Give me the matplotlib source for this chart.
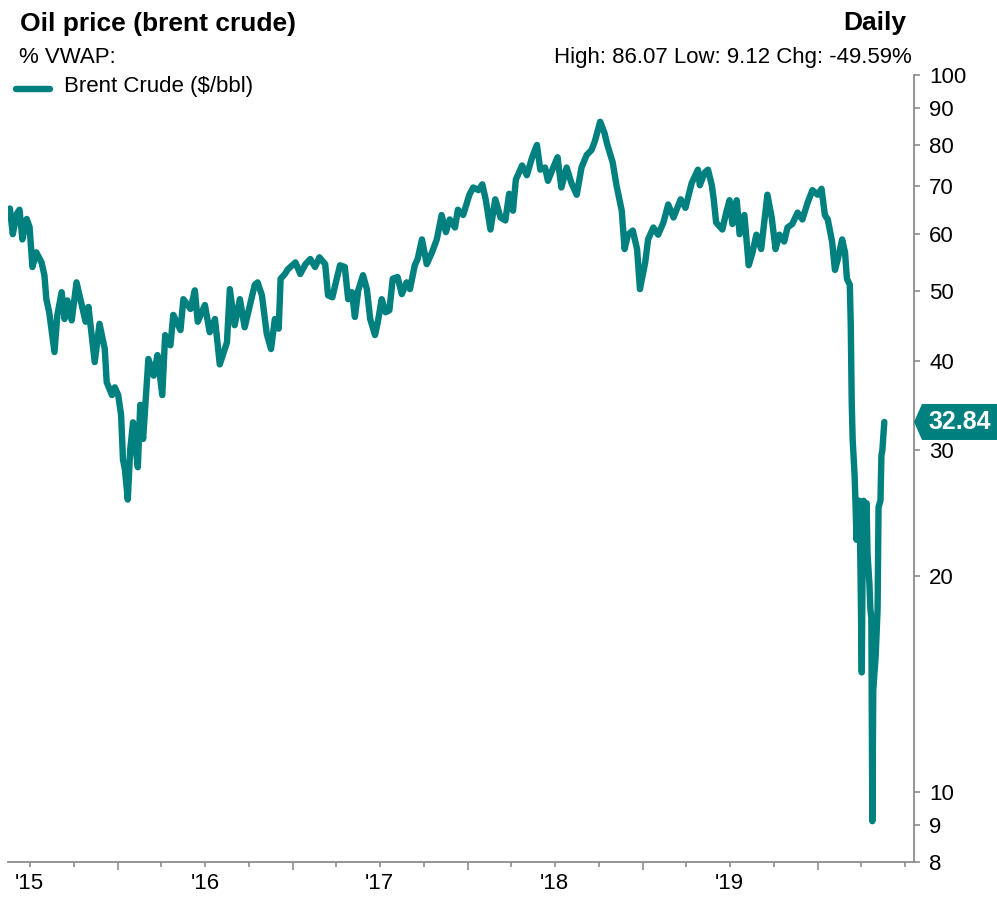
#!/usr/bin/env python3
"""Brent crude daily price chart (log scale) recreated with matplotlib."""

import matplotlib

matplotlib.use("Agg")
import matplotlib.dates as mdates
import matplotlib.pyplot as plt
import matplotlib.ticker as mticker
import pandas as pd
from matplotlib.lines import Line2D
from matplotlib.patches import Polygon
from matplotlib.transforms import IdentityTransform

plt.rcParams["font.family"] = ["Liberation Sans", "DejaVu Sans"]

TEAL = "#00807F"
GREY = "#8C8C8C"
W, H = 997, 897

dates_2015 = [
    "2015-05-21", "2015-05-27", "2015-06-04", "2015-06-10", "2015-06-16",
    "2015-06-25", "2015-07-01", "2015-07-07", "2015-07-15", "2015-07-26",
    "2015-08-01", "2015-08-05", "2015-08-11", "2015-08-22", "2015-08-28",
    "2015-09-06", "2015-09-12", "2015-09-18", "2015-09-27", "2015-10-07",
    "2015-10-18", "2015-10-26", "2015-11-01", "2015-11-14", "2015-11-24",
    "2015-12-05", "2015-12-09", "2015-12-20", "2015-12-26",
]
prices_2015 = [
    65.15, 60.0, 64.0, 64.9, 59.0, 63.0, 61.4, 54.0, 56.6, 54.8,
    52.6, 48.7, 46.7, 41.1, 46.3, 49.8, 45.7, 48.5, 45.5, 51.4,
    47.8, 45.3, 47.5, 39.8, 45.0, 41.5, 37.3, 35.8, 36.7,
]

dates_2016 = [
    "2016-01-02", "2016-01-08", "2016-01-12", "2016-01-16", "2016-01-22",
    "2016-01-27", "2016-02-02", "2016-02-06", "2016-02-12", "2016-02-17",
    "2016-02-23", "2016-03-05", "2016-03-16", "2016-03-24", "2016-04-03",
    "2016-04-09", "2016-04-20", "2016-04-26", "2016-05-11", "2016-05-17",
    "2016-06-01", "2016-06-10", "2016-06-16", "2016-07-01", "2016-07-11",
    "2016-07-22", "2016-08-01", "2016-08-16", "2016-08-22", "2016-09-01",
    "2016-09-12", "2016-09-22", "2016-10-03", "2016-10-13", "2016-10-19",
    "2016-10-28", "2016-11-07", "2016-11-16", "2016-11-24", "2016-12-02",
    "2016-12-06", "2016-12-15", "2016-12-21",
]
prices_2016 = [
    35.8, 33.6, 29.1, 28.2, 25.6, 30.0, 32.8, 30.8, 28.4, 34.7,
    31.1, 40.2, 38.1, 40.7, 35.8, 43.4, 42.0, 46.3, 44.1, 48.7,
    47.2, 50.1, 45.3, 47.8, 43.8, 45.7, 39.5, 42.4, 50.3, 44.8,
    48.7, 44.5, 47.8, 51.0, 51.4, 49.3, 43.6, 41.5, 45.7, 44.3,
    52.0, 52.8, 53.6,
]

dates_2017 = [
    "2017-01-06", "2017-01-16", "2017-01-27", "2017-02-06", "2017-02-16",
    "2017-02-25", "2017-03-09", "2017-03-15", "2017-03-24", "2017-04-03",
    "2017-04-09", "2017-04-19", "2017-04-26", "2017-05-04", "2017-05-10",
    "2017-05-17", "2017-05-27", "2017-06-04", "2017-06-11", "2017-06-21",
    "2017-06-27", "2017-07-05", "2017-07-13", "2017-07-21", "2017-07-28",
    "2017-08-07", "2017-08-16", "2017-08-26", "2017-09-02", "2017-09-12",
    "2017-09-18", "2017-09-27", "2017-10-07", "2017-10-18", "2017-10-28",
    "2017-11-07", "2017-11-16", "2017-11-24", "2017-12-05", "2017-12-11",
    "2017-12-22",
]
prices_2017 = [
    54.8, 52.8, 54.5, 55.4, 54.0, 55.7, 54.5, 49.3, 49.0, 52.3,
    54.3, 54.0, 48.7, 49.8, 46.0, 50.1, 52.6, 50.3, 45.7, 43.4,
    45.3, 48.7, 46.7, 47.0, 52.0, 52.3, 49.5, 51.4, 50.3, 54.3,
    55.4, 59.0, 54.5, 56.6, 59.0, 63.8, 60.4, 62.9, 61.3, 64.9,
    63.8,
]

dates_2018 = [
    "2018-01-04", "2018-01-12", "2018-01-23", "2018-01-31", "2018-02-07",
    "2018-02-17", "2018-02-27", "2018-03-10", "2018-03-20", "2018-03-28",
    "2018-04-05", "2018-04-11", "2018-04-24", "2018-05-04", "2018-05-15",
    "2018-05-25", "2018-06-01", "2018-06-11", "2018-06-17", "2018-06-28",
    "2018-07-07", "2018-07-15", "2018-07-26", "2018-08-05", "2018-08-16",
    "2018-08-26", "2018-09-06", "2018-09-16", "2018-09-23", "2018-10-04",
    "2018-10-13", "2018-10-19", "2018-10-30", "2018-11-07", "2018-11-18",
    "2018-11-24", "2018-12-01", "2018-12-11", "2018-12-20", "2018-12-26",
]
prices_2018 = [
    68.1, 69.7, 69.1, 70.4, 67.1, 60.9, 67.1, 63.3, 62.7, 68.3,
    64.7, 71.5, 74.8, 72.5, 76.8, 79.9, 73.8, 74.3, 71.2, 74.3,
    76.8, 69.7, 74.3, 70.7, 68.1, 74.3, 77.4, 78.6, 80.9, 86.07,
    83.0, 79.9, 75.6, 70.2, 64.7, 57.2, 59.9, 60.7, 57.2, 50.3,
]

dates_2019 = [
    "2019-01-06", "2019-01-12", "2019-01-23", "2019-02-02", "2019-02-13",
    "2019-02-23", "2019-03-06", "2019-03-21", "2019-03-31", "2019-04-13",
    "2019-04-26", "2019-04-30", "2019-05-10", "2019-05-17", "2019-05-25",
    "2019-05-29", "2019-06-03", "2019-06-16", "2019-06-24", "2019-07-01",
    "2019-07-07", "2019-07-16", "2019-07-22", "2019-08-01", "2019-08-10",
    "2019-08-18", "2019-08-26", "2019-09-05", "2019-09-12", "2019-09-18",
    "2019-09-27", "2019-10-05", "2019-10-13", "2019-10-23", "2019-10-30",
    "2019-11-09", "2019-11-20", "2019-11-30", "2019-12-11", "2019-12-21",
]
prices_2019 = [
    54.8, 59.0, 61.3, 59.9, 62.3, 66.0, 63.3, 67.1, 65.3, 70.7,
    73.8, 70.2, 73.1, 73.8, 70.2, 67.1, 62.3, 60.9, 64.3, 66.9,
    62.0, 66.9, 60.0, 63.8, 54.3, 56.6, 59.9, 57.2, 62.9, 68.1,
    63.3, 57.2, 59.9, 58.6, 61.3, 62.0, 64.3, 62.9, 66.4, 69.1,
]

dates_2020 = [
    "2020-01-01", "2020-01-09", "2020-01-16", "2020-01-22", "2020-01-31",
    "2020-02-06", "2020-02-12", "2020-02-21", "2020-02-27", "2020-03-02",
    "2020-03-08", "2020-03-10", "2020-03-12", "2020-03-14", "2020-03-18",
    "2020-03-20", "2020-03-22", "2020-03-24", "2020-03-26", "2020-03-28",
    "2020-03-30", "2020-04-02", "2020-04-04", "2020-04-06", "2020-04-10",
    "2020-04-12", "2020-04-14", "2020-04-18", "2020-04-20", "2020-04-22",
    "2020-04-24", "2020-04-26", "2020-05-01", "2020-05-05", "2020-05-07",
    "2020-05-11", "2020-05-13", "2020-05-15", "2020-05-19",
]
prices_2020 = [
    68.1, 69.4, 63.8, 62.9, 58.6, 53.5, 55.4, 59.0, 56.6, 52.0,
    51.0, 45.0, 35.0, 31.0, 27.7, 25.2, 22.5, 25.5, 22.5, 25.5,
    21.2, 14.7, 22.0, 25.5, 21.0, 25.3, 21.5, 19.5, 18.0, 17.5,
    9.12, 13.9, 15.5, 18.0, 25.0, 25.5, 29.5, 30.0, 32.84,
]

y_ticks = [8, 9, 10, 20, 30, 40, 50, 60, 70, 80, 90, 100]
x_start, x_end = "2015-05-17", "2020-07-20"

title = "Oil price (brent crude)"
subtitle = "% VWAP:"
frequency = "Daily"
series_name = "Brent Crude ($/bbl)"


def fx(px):
    return px / W


def fy(py):
    return 1 - py / H


prices = pd.Series(
    prices_2015 + prices_2016 + prices_2017 + prices_2018 + prices_2019 + prices_2020,
    index=pd.to_datetime(
        dates_2015 + dates_2016 + dates_2017 + dates_2018 + dates_2019 + dates_2020
    ),
)
stats = (
    f"High: {prices.max():.2f} Low: {prices.min():.2f} "
    f"Chg: {(prices.iloc[-1] / prices.iloc[0] - 1) * 100:.2f}%"
)
last_date = prices.index[-1]


def year_label(value, _pos):
    day = mdates.num2date(value).replace(tzinfo=None)
    if day.month == 7 and day < last_date:
        return day.strftime("'%y")
    return ""


fig = plt.figure(figsize=(W / 100, H / 100), dpi=100)
ax = fig.add_axes([fx(8), fy(862), fx(914) - fx(8), fy(75) - fy(862)])

ax.plot(prices.index, prices.values, color=TEAL, linewidth=4.6,
        solid_capstyle="round", solid_joinstyle="round")

ax.set_yscale("log")
ax.set_ylim(8, 100)
ax.set_xlim(pd.Timestamp(x_start), pd.Timestamp(x_end))

ax.yaxis.tick_right()
ax.yaxis.set_major_locator(mticker.FixedLocator(y_ticks))
ax.yaxis.set_major_formatter(mticker.FuncFormatter(lambda v, _: f"{v:g}"))
ax.yaxis.set_minor_locator(mticker.NullLocator())
ax.tick_params(axis="y", which="major", length=4.3, width=1.2, color=GREY,
               labelsize=16, pad=6.5)

ax.xaxis.set_major_locator(mdates.YearLocator())
ax.xaxis.set_major_formatter(mticker.NullFormatter())
ax.xaxis.set_minor_locator(mdates.MonthLocator(bymonth=[4, 7, 10]))
ax.xaxis.set_minor_formatter(mticker.FuncFormatter(year_label))
ax.tick_params(axis="x", which="major", length=6, width=1.2, color=GREY)
ax.tick_params(axis="x", which="minor", length=3.5, width=1.2, color=GREY,
               labelsize=16, pad=4.5)

for side in ("top", "left"):
    ax.spines[side].set_visible(False)
for side in ("right", "bottom"):
    ax.spines[side].set_color(GREY)
    ax.spines[side].set_linewidth(1.3)

# header texts
fig.text(fx(20), fy(31.5), title, fontsize=19, fontweight="bold", va="baseline")
fig.text(fx(906), fy(30), frequency, fontsize=19, fontweight="bold",
         ha="right", va="baseline")
fig.text(fx(19), fy(63), subtitle, fontsize=16, va="baseline")
fig.text(fx(912), fy(63), stats, fontsize=16, ha="right", va="baseline")

# legend entry
fig.add_artist(Line2D([fx(16), fx(50)], [fy(89), fy(89)], color=TEAL,
                      linewidth=4.6, solid_capstyle="round"))
fig.text(fx(64), fy(92), series_name, fontsize=16, va="baseline")

# last value tag on the right axis
last = prices.iloc[-1]
y_disp = ax.transData.transform((ax.get_xlim()[0], last))[1]
x_tip = ax.bbox.x1
tag = Polygon(
    [(x_tip, y_disp), (x_tip + 8, y_disp + 18), (W, y_disp + 18),
     (W, y_disp - 18), (x_tip + 8, y_disp - 18)],
    closed=True, facecolor=TEAL, edgecolor="none",
    transform=IdentityTransform(),
)
fig.add_artist(tag)
fig.text((x_tip + 8 + W) / 2 / W, y_disp / H, f"{last:.2f}", fontsize=18,
         fontweight="bold", color="white", ha="center", va="center")

fig.savefig("out.png", dpi=100)
plt.close(fig)
